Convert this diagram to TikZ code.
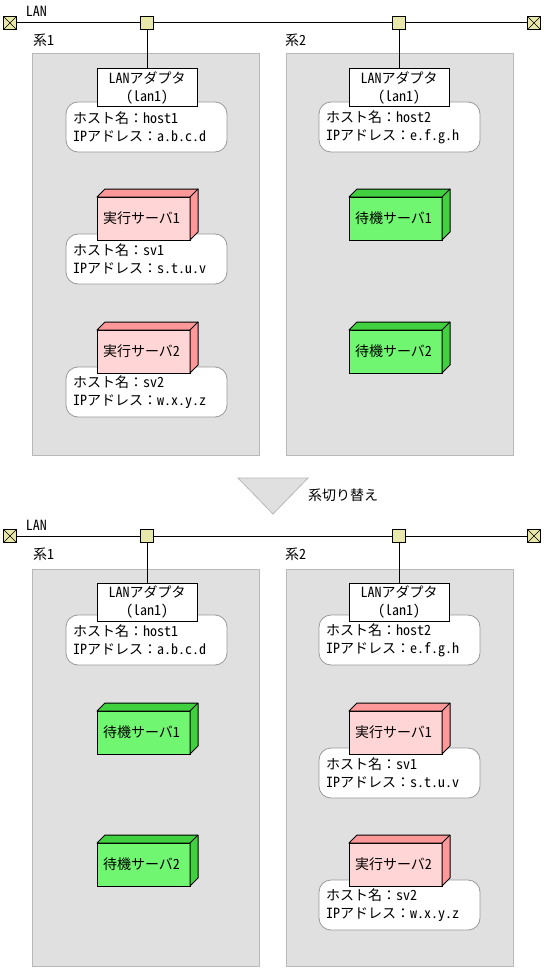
\documentclass[tikz,border=0pt]{standalone}
\usepackage{fontspec}
\newfontfamily\jp[RawFeature=+hwid]{Noto Sans CJK JP}
\newfontfamily\jpfull{Noto Sans CJK JP}
\newcommand{\cln}{{\jpfull ：}}
\definecolor{panelfill}{HTML}{E0E0E0}
\definecolor{panelline}{HTML}{B8B8B8}
\definecolor{infoline}{HTML}{999999}
\definecolor{termfill}{HTML}{E8E8AA}
\definecolor{redfront}{HTML}{FFD5D5}
\definecolor{redside}{HTML}{FF9999}
\definecolor{greenfront}{HTML}{70F670}
\definecolor{greenside}{HTML}{40D040}
\tikzset{
  x=0.75pt,y=-0.75pt,
  every node/.style={font=\jp\fontsize{10.5}{13.2}\selectfont,inner sep=0pt,outer sep=0pt},
  panel/.style={draw=panelline,fill=panelfill,line width=0.75pt,anchor=north west,minimum width=170.5pt,minimum height=300.75pt},
  adapter/.style={draw=black,fill=white,line width=0.75pt,minimum width=75pt,minimum height=28.5pt,align=center},
  info/.style={draw=infoline,fill=white,line width=0.6pt,rounded corners=9pt,minimum width=120.75pt,minimum height=37.5pt,text width=110pt,align=left},
  front/.style={draw=black,line width=0.75pt,minimum width=69.75pt,minimum height=32.25pt},
  lanline/.style={draw=black,line width=0.75pt},
  term/.style={draw=black,fill=termfill,line width=0.75pt,minimum size=9.75pt},
  plain/.style={anchor=west},
}
% \srv{name}{cx}{cy}{front}{side}{text}
\newcommand{\srv}[6]{%
  \node[front,fill=#4] (#1) at (#2,#3) {};
  \filldraw[fill=#5,draw=black,line width=0.75pt,line join=round]
    (#1.north west) -- ++(8,-8) -- ++(93,0) -- ++(0,43) -- (#1.south east) -- (#1.north east) -- cycle;
  \draw[black,line width=0.75pt] (#1.north east) -- ++(8,-8);
  \node at ([xshift=-1.5pt]#1.center) {#6};
}
% \xterm{name}{x}{y}
\newcommand{\xterm}[3]{%
  \node[term] (#1) at (#2,#3) {};
  \draw[black,line width=0.5pt] (#1.north west) -- (#1.south east) (#1.north east) -- (#1.south west);
}
\begin{document}
\begin{tikzpicture}
\useasboundingbox (0,0) rectangle (543,970);
% ---------- upper half
\node[panel] (p1) at (32,54) {};
\node[panel] (p2) at (286,54) {};
\node[plain] (l1) at (33,40) {系1};
\node[plain] (l2) at (285,40) {系2};
\node[plain] (lan) at (26,11) {LAN};
\xterm{tl}{10}{23}
\xterm{tr}{534}{23}
\node[term] (j1) at (147,23) {};
\node[term] (j2) at (399,23) {};
\draw[lanline] (tl) -- (j1);
\draw[lanline] (j1) -- (j2);
\draw[lanline] (j2) -- (tr);
\node[info] (i1) at (146.5,127) {ホスト名\cln host1\\IPアドレス\cln a.b.c.d};
\node[adapter] (a1) at (147,88) {LANアダプタ\\（lan1）};
\draw[lanline] (j1) -- (a1);
\node[info] (i2) at (399.5,127) {ホスト名\cln host2\\IPアドレス\cln e.f.g.h};
\node[adapter] (a2) at (399,88) {LANアダプタ\\（lan1）};
\draw[lanline] (j2) -- (a2);
\node[info] (i3) at (146.5,259) {ホスト名\cln sv1\\IPアドレス\cln s.t.u.v};
\srv{s1}{143.5}{218.5}{redfront}{redside}{実行サーバ1}
\node[info] (i4) at (146.5,392) {ホスト名\cln sv2\\IPアドレス\cln w.x.y.z};
\srv{s2}{143.5}{351.5}{redfront}{redside}{実行サーバ2}
\srv{s3}{395.5}{218.5}{greenfront}{greenside}{待機サーバ1}
\srv{s4}{395.5}{351.5}{greenfront}{greenside}{待機サーバ2}
% ---------- switch-over
\fill[panelfill,draw=panelline,line width=0.6pt] (238,478) -- (308,478) -- (273,514) -- cycle;
\node[plain] (sw) at (308,495) {系切り替え};
% ---------- lower half
\node[panel,minimum height=298.25pt] (q1) at (32,569) {};
\node[panel,minimum height=298.25pt] (q2) at (286,569) {};
\node[plain] (m1) at (33,554) {系1};
\node[plain] (m2) at (285,554) {系2};
\node[plain] (lanb) at (26,525.5) {LAN};
\xterm{bl}{10}{536}
\xterm{br}{534}{536}
\node[term] (k1) at (147,536) {};
\node[term] (k2) at (399,536) {};
\draw[lanline] (bl) -- (k1);
\draw[lanline] (k1) -- (k2);
\draw[lanline] (k2) -- (br);
\node[info] (n1) at (146.5,640) {ホスト名\cln host1\\IPアドレス\cln a.b.c.d};
\node[adapter] (b1) at (147,602) {LANアダプタ\\（lan1）};
\draw[lanline] (k1) -- (b1);
\node[info] (n2) at (399.5,640) {ホスト名\cln host2\\IPアドレス\cln e.f.g.h};
\node[adapter] (b2) at (399,602) {LANアダプタ\\（lan1）};
\draw[lanline] (k2) -- (b2);
\srv{t3}{143.5}{732.5}{greenfront}{greenside}{待機サーバ1}
\srv{t4}{143.5}{864.5}{greenfront}{greenside}{待機サーバ2}
\node[info] (n3) at (399.5,773) {ホスト名\cln sv1\\IPアドレス\cln s.t.u.v};
\srv{t1}{395.5}{732.5}{redfront}{redside}{実行サーバ1}
\node[info] (n4) at (399.5,905) {ホスト名\cln sv2\\IPアドレス\cln w.x.y.z};
\srv{t2}{395.5}{864.5}{redfront}{redside}{実行サーバ2}
\end{tikzpicture}
\end{document}
